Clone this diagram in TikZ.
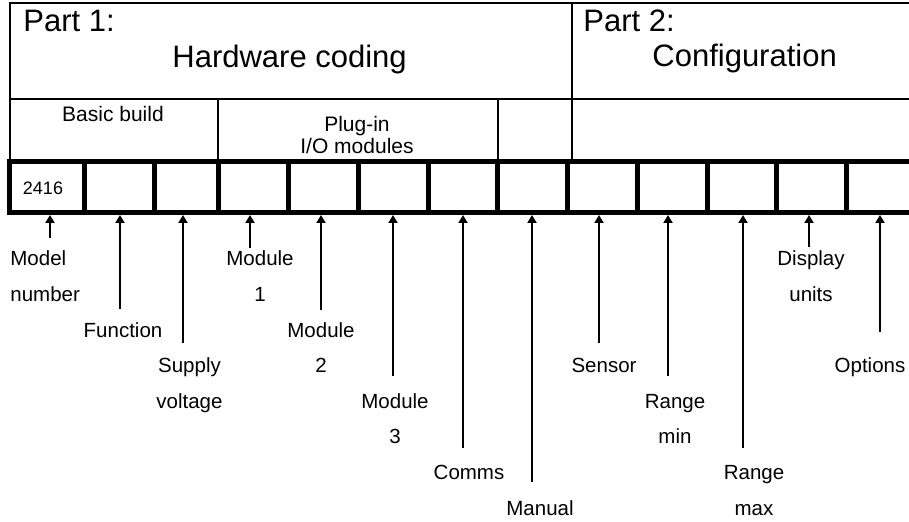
\documentclass[tikz,border=0pt]{standalone}
\usepackage{fontspec}
\setmainfont{Liberation Sans}
\usetikzlibrary{arrows.meta,fit}

\begin{document}
\begin{tikzpicture}[
  x=0.5pt, y=-0.5pt,
  frame/.style={rectangle, draw, line width=1pt, inner sep=0pt},
  cell/.style={rectangle, draw, line width=2.5pt, inner sep=0pt},
  title/.style={font=\fontsize{15.5}{18}\selectfont, inner sep=0pt, anchor=base west},
  group/.style={font=\fontsize{10.5}{10.8}\selectfont, align=center, inner sep=0pt, anchor=base},
  lbl/.style={font=\fontsize{10.25}{17.8}\selectfont, align=center, inner sep=0pt, anchor=base},
  arrow/.style={-{Triangle[length=4pt, width=4.5pt]}, line width=1pt},
]
  \useasboundingbox (0,0) rectangle (909,522);

  % header boxes
  \node[frame, fit={(9.5,3) (572,99)}] (part1) {};
  \node[frame, fit={(572,3) (940,99)}] (part2) {};
  \node[frame, fit={(9.5,99) (218,162)}] (basic) {};
  \node[frame, fit={(218,99) (497.5,162)}] (plugin) {};
  \node[frame, fit={(497.5,99) (572,162)}] (spare) {};
  \node[frame, fit={(572,99) (940,162)}] (config) {};

  \node[title] (p1) at (23,32) {Part 1:};
  \node[title] (hw) at (172,68) {Hardware coding};
  \node[title] (p2) at (583,32) {Part 2:};
  \node[title] (cf) at (652,67) {Configuration};
  \node[group] (bb) at (113,122) {Basic build};
  \node[group] (io) at (357,153.5) {Plug-in\\I/O modules};

  % code cells
  \node[cell, fit={(9.5,162) (84.5,212.5)}] (c1) {};
  \node[cell, fit={(84.5,162) (154.5,212.5)}] (c2) {};
  \node[cell, fit={(154.5,162) (218,212.5)}] (c3) {};
  \node[cell, fit={(218,162) (288,212.5)}] (c4) {};
  \node[cell, fit={(288,162) (358,212.5)}] (c5) {};
  \node[cell, fit={(358,162) (428,212.5)}] (c6) {};
  \node[cell, fit={(428,162) (497.5,212.5)}] (c7) {};
  \node[cell, fit={(497.5,162) (567,212.5)}] (c8) {};
  \node[cell, fit={(567,162) (637,212.5)}] (c9) {};
  \node[cell, fit={(637,162) (707,212.5)}] (c10) {};
  \node[cell, fit={(707,162) (776.5,212.5)}] (c11) {};
  \node[cell, fit={(776.5,162) (846,212.5)}] (c12) {};
  \node[cell, fit={(846,162) (940,212.5)}] (c13) {};
  \node[font=\fontsize{9}{10}\selectfont, inner sep=0pt, anchor=base] (model) at (43,195) {2416};

  % labels (anchored at the last line)
  \node[lbl, anchor=base west, align=left] (lmodel) at (10,301.6) {Model\\number};
  \node[lbl] (lfunc) at (123,337.2) {Function};
  \node[lbl] (lsupply) at (189.5,408.4) {Supply\\voltage};
  \node[lbl] (lmod1) at (260,301.6) {Module\\1};
  \node[lbl] (lmod2) at (321,372.8) {Module\\2};
  \node[lbl] (lmod3) at (395,444) {Module\\3};
  \node[lbl] (lcomms) at (469,479.6) {Comms};
  \node[lbl] (lmanual) at (540,515.2) {Manual};
  \node[lbl] (lsensor) at (604,372.8) {Sensor};
  \node[lbl] (lrmin) at (675,444) {Range\\min};
  \node[lbl] (lrmax) at (754,515.2) {Range\\max};
  \node[lbl] (ldisp) at (811,301.6) {Display\\units};
  \node[lbl] (lopt) at (870,372.8) {Options};

  % arrow tails
  \coordinate (tmodel) at (50,238);
  \coordinate (tfunc) at (120,309);
  \coordinate (tsupply) at (183,343);
  \coordinate (tmod1) at (250,248);
  \coordinate (tmod2) at (321,310);
  \coordinate (tmod3) at (393,376);
  \coordinate (tcomms) at (463,448);
  \coordinate (tmanual) at (532,482);
  \coordinate (tsensor) at (599,343);
  \coordinate (trmin) at (668,376);
  \coordinate (trmax) at (743,448);
  \coordinate (tdisp) at (809,247);
  \coordinate (topt) at (880,332);

  \draw[arrow] (tmodel) -- (tmodel |- c1.south);
  \draw[arrow] (tfunc) -- (tfunc |- c2.south);
  \draw[arrow] (tsupply) -- (tsupply |- c3.south);
  \draw[arrow] (tmod1) -- (tmod1 |- c4.south);
  \draw[arrow] (tmod2) -- (tmod2 |- c5.south);
  \draw[arrow] (tmod3) -- (tmod3 |- c6.south);
  \draw[arrow] (tcomms) -- (tcomms |- c7.south);
  \draw[arrow] (tmanual) -- (tmanual |- c8.south);
  \draw[arrow] (tsensor) -- (tsensor |- c9.south);
  \draw[arrow] (trmin) -- (trmin |- c10.south);
  \draw[arrow] (trmax) -- (trmax |- c11.south);
  \draw[arrow] (tdisp) -- (tdisp |- c12.south);
  \draw[arrow] (topt) -- (topt |- c13.south);
\end{tikzpicture}
\end{document}
